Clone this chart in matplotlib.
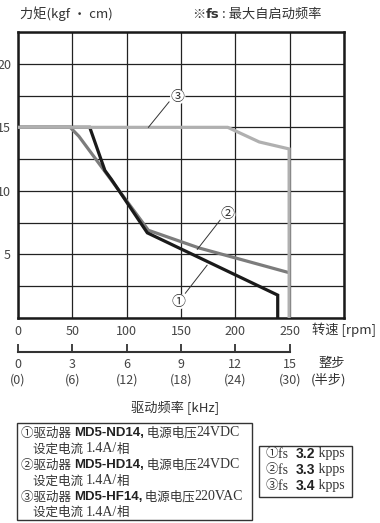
import matplotlib
matplotlib.use('Agg')
import matplotlib.pyplot as plt
from matplotlib.patches import Rectangle

plt.rcParams['font.family'] = ['Noto Sans CJK SC', 'DejaVu Sans']

# ---------------- data ----------------
speed_1 = [0, 66, 80, 86, 119, 239, 239]
torque_1 = [15, 15, 11.6, 10.9, 6.7, 1.8, 0]
speed_2 = [0, 48, 56, 120, 167, 248]
torque_2 = [15, 15, 14.3, 6.9, 5.5, 3.6]
speed_3 = [0, 193, 222, 249.5, 249.5]
torque_3 = [15, 15, 13.85, 13.3, 0]

rpm_ticks = [0, 50, 100, 150, 200, 250]
full_step_khz = [0, 3, 6, 9, 12, 15]
half_step_khz = [0, 6, 12, 18, 24, 30]
torque_ticks = [5, 10, 15, 20]

W, H = 380, 523
fig = plt.figure(figsize=(3.8, 5.23), dpi=100)


def fx(px):
    return px / W


def fy(py):
    return 1 - py / H


TXT = '#333333'

# ---------------- main axes ----------------
ax = fig.add_axes([fx(18), fy(318), fx(344) - fx(18), fy(32) - fy(318)])
ax.set_xlim(0, 300)
ax.set_ylim(0, 22.5)
ax.set_xticks(range(0, 301, 50))
ax.set_xticklabels([str(v) for v in rpm_ticks] + [''])
ax.set_yticks([i * 2.5 for i in range(10)])
ax.set_yticklabels(['' if (i * 2.5) not in torque_ticks else str(int(i * 2.5)) for i in range(10)])
ax.tick_params(length=0, labelsize=9, labelcolor='#444444')
ax.tick_params(axis='x', pad=5)
ax.tick_params(axis='y', pad=5)
ax.grid(True, color='#222222', linewidth=0.9)
ax.set_axisbelow(True)
for s in ax.spines.values():
    s.set_linewidth(1.8)
    s.set_color('#1a1a1a')

ax.plot(speed_2, torque_2, color='#7c7c7c', lw=2.3, solid_joinstyle='miter', zorder=3)
ax.plot(speed_1, torque_1, color='#1a1a1a', lw=2.3, solid_joinstyle='miter', zorder=4)
ax.plot(speed_3, torque_3, color='#b0b0b0', lw=2.3, solid_joinstyle='miter', zorder=5)

# leader lines and circled labels
circ = dict(boxstyle='circle,pad=0.05', fc='white', ec='none')
ax.plot([120, 139], [15, 17.0], color='#333333', lw=0.7, zorder=6)
ax.text(147, 17.4, '③', ha='center', va='center', fontsize=10, color=TXT, bbox=circ, zorder=7)
ax.plot([165, 186], [5.4, 7.7], color='#333333', lw=0.7, zorder=6)
ax.text(193, 8.15, '②', ha='center', va='center', fontsize=10, color=TXT, bbox=circ, zorder=7)
ax.plot([154, 174], [1.95, 4.15], color='#333333', lw=0.7, zorder=6)
ax.text(148, 1.28, '①', ha='center', va='center', fontsize=10, color=TXT, bbox=circ, zorder=7)

# ---------------- secondary step-frequency scale ----------------
ax2 = fig.add_axes([fx(18), fy(352), fx(344) - fx(18), 0.0001])
ax2.set_xlim(0, 300)
for k in ['top', 'left', 'right']:
    ax2.spines[k].set_visible(False)
ax2.spines['bottom'].set_bounds(0, 250)
ax2.spines['bottom'].set_linewidth(1.5)
ax2.spines['bottom'].set_color('#333333')
ax2.set_yticks([])
ax2.set_xticks([k * 250 / 15 for k in full_step_khz])
ax2.set_xticklabels([f'{a}\n({b})' for a, b in zip(full_step_khz, half_step_khz)],
                    linespacing=1.3)
ax2.tick_params(axis='x', direction='in', length=5.5, width=1.3, color='#333333',
                labelsize=9, labelcolor='#444444', pad=4)

# ---------------- texts ----------------
fig.text(fx(20), fy(14), '力矩(kgf · cm)', ha='left', va='center', fontsize=9.5, color=TXT)
renderer = fig.canvas.get_renderer()
inv = fig.transFigure.inverted()


def seq_text(x, y, pieces, fs=9):
    for s, kw in pieces:
        kw = dict(kw)
        size = kw.pop('fontsize', fs)
        col = kw.pop('color', TXT)
        t = fig.text(x, y, s, ha='left', va='center', fontsize=size, color=col, **kw)
        bb = t.get_window_extent(renderer)
        x = inv.transform((bb.x1, 0))[0]


seq_text(fx(192), fy(14), [('※', {}), ('fs', {'fontweight': 'bold', 'family': ['DejaVu Sans']}),
                           (' : 最大自启动频率', {})], fs=9.5)

fig.text(fx(312), fy(330), '转速 [rpm]', ha='left', va='center', fontsize=9.5, color=TXT)
fig.text(fx(332), fy(363), '整步', ha='center', va='center', fontsize=9.5, color=TXT)
fig.text(fx(329), fy(380), '(半步)', ha='center', va='center', fontsize=9.5, color=TXT)
fig.text(fx(175), fy(408), '驱动频率 [kHz]', ha='center', va='center', fontsize=9.5, color=TXT)

# legend boxes
fig.patches.append(Rectangle((fx(17), fy(520)), fx(252) - fx(17), fy(423) - fy(520),
                             transform=fig.transFigure, fill=False, ec='#333333', lw=1.0))
fig.patches.append(Rectangle((fx(259), fy(497)), fx(352) - fx(259), fy(446) - fy(497),
                             transform=fig.transFigure, fill=False, ec='#333333', lw=1.0))

serif = {'family': ['Liberation Serif', 'Noto Sans CJK SC'], 'fontsize': 10}
bold = {'fontweight': 'bold', 'family': ['Liberation Sans'], 'color': '#222222', 'fontsize': 9.5}
drivers = ['MD5-ND14,', 'MD5-HD14,', 'MD5-HF14,']
supplies = ['24VDC', '24VDC', '220VAC']
marks = ['①', '②', '③']
line_y = [433, 449, 465, 481, 497, 512]
for i in range(3):
    seq_text(fx(21), fy(line_y[2 * i]), [(marks[i] + '驱动器 ', {}), (drivers[i], bold),
                                         (' 电源电压', {}), (supplies[i], serif)], fs=9)
    seq_text(fx(33), fy(line_y[2 * i + 1]), [('设定电流 ', {}), ('1.4A/', serif), ('相', {})], fs=9)

fs_vals = ['3.2', '3.3', '3.4']
for i, yy in enumerate([454, 470, 486]):
    seq_text(fx(266), fy(yy), [(marks[i], {}), ('fs  ', serif), (fs_vals[i], dict(bold, fontsize=10)),
                               (' kpps', serif)], fs=9)

fig.savefig('out.png', dpi=100)
